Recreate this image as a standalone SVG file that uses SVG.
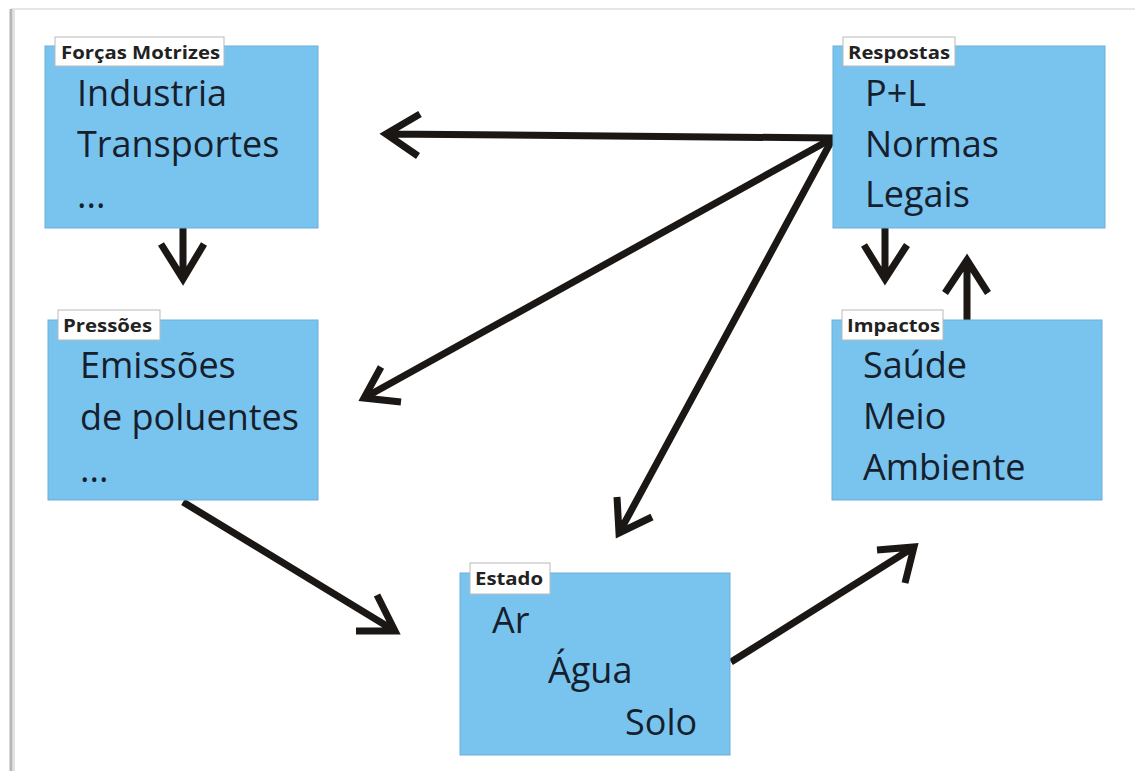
<svg xmlns="http://www.w3.org/2000/svg" width="1135" height="771" viewBox="0 0 1135 771">
<style>
.box{fill:#79C4EF;stroke:#6AAFD8;stroke-width:1}
.lab{fill:#ffffff;stroke:#b9b9b9;stroke-width:1}
.lt{font-family:"Open Sans","Noto Sans",sans-serif;font-weight:bold;font-size:18px;fill:#222}
.t{font-family:"Open Sans","Noto Sans",sans-serif;font-size:36px;fill:#16202c}
.c{fill:none;stroke:#1b1715;stroke-width:7;stroke-linecap:butt;stroke-linejoin:miter}
</style>
<rect x="0" y="0" width="1135" height="771" fill="#ffffff"/>
<g id="frame">
<line x1="11" y1="9" x2="1135" y2="9" stroke="#e6e6e6" stroke-width="2"/>
<line x1="11" y1="9" x2="11" y2="771" stroke="#b5b5b5" stroke-width="3"/>
<line x1="14" y1="10" x2="14" y2="771" stroke="#e2e2e2" stroke-width="2"/>
</g>
<g id="connectors">
<path class="c" d="M833,138 L386,134 M420,114 L386,134 L418,156"/>
<path class="c" d="M833,138 L364,398 M381,367 L364,398 L401,402"/>
<path class="c" d="M833,138 L619,533 M617,497 L619,533 L652,517"/>
<path class="c" d="M183,228 L183,279 M161,244 L183,279 L204,244"/>
<path class="c" d="M885,228 L885,279 M864,245 L885,279 L907,245"/>
<path class="c" d="M967,320 L967,260 M945,293 L967,260 L988,293"/>
<path class="c" d="M183,502 L395,631 M377,595 L395,631 L356,631"/>
<path class="c" d="M731,662 L914,547 M877,550 L914,547 L905,583"/>
</g>
<g id="forcas">
<rect class="box" x="45" y="46" width="273" height="182"/>
<rect class="lab" x="55" y="37" width="169" height="29"/>
<text class="lt" x="61" y="59" textLength="159" lengthAdjust="spacingAndGlyphs">Forças Motrizes</text>
<text class="t" x="77" y="106">Industria</text>
<text class="t" x="77" y="157">Transportes</text>
<text class="t" x="77" y="208">...</text>
</g>
<g id="respostas">
<rect class="box" x="833" y="46" width="272" height="182"/>
<rect class="lab" x="843" y="37" width="112" height="29"/>
<text class="lt" x="848" y="59" textLength="102" lengthAdjust="spacingAndGlyphs">Respostas</text>
<text class="t" x="865" y="106">P+L</text>
<text class="t" x="865" y="157">Normas</text>
<text class="t" x="865" y="207">Legais</text>
</g>
<g id="pressoes">
<rect class="box" x="48" y="320" width="270" height="180"/>
<rect class="lab" x="58" y="310" width="102" height="30"/>
<text class="lt" x="63" y="332" textLength="89" lengthAdjust="spacingAndGlyphs">Pressões</text>
<text class="t" x="80" y="378">Emissões</text>
<text class="t" x="80" y="430">de poluentes</text>
<text class="t" x="80" y="482">...</text>
</g>
<g id="impactos">
<rect class="box" x="832" y="320" width="270" height="180"/>
<rect class="lab" x="842" y="310" width="101" height="30"/>
<text class="lt" x="847" y="332" textLength="93" lengthAdjust="spacingAndGlyphs">Impactos</text>
<text class="t" x="863" y="378">Saúde</text>
<text class="t" x="863" y="429">Meio</text>
<text class="t" x="863" y="480">Ambiente</text>
</g>
<g id="estado">
<rect class="box" x="460" y="573" width="270" height="182"/>
<rect class="lab" x="470" y="563" width="80" height="31"/>
<text class="lt" x="475" y="585" textLength="68" lengthAdjust="spacingAndGlyphs">Estado</text>
<text class="t" x="492" y="633">Ar</text>
<text class="t" x="548" y="683">Água</text>
<text class="t" x="625" y="735">Solo</text>
</g>
</svg>
